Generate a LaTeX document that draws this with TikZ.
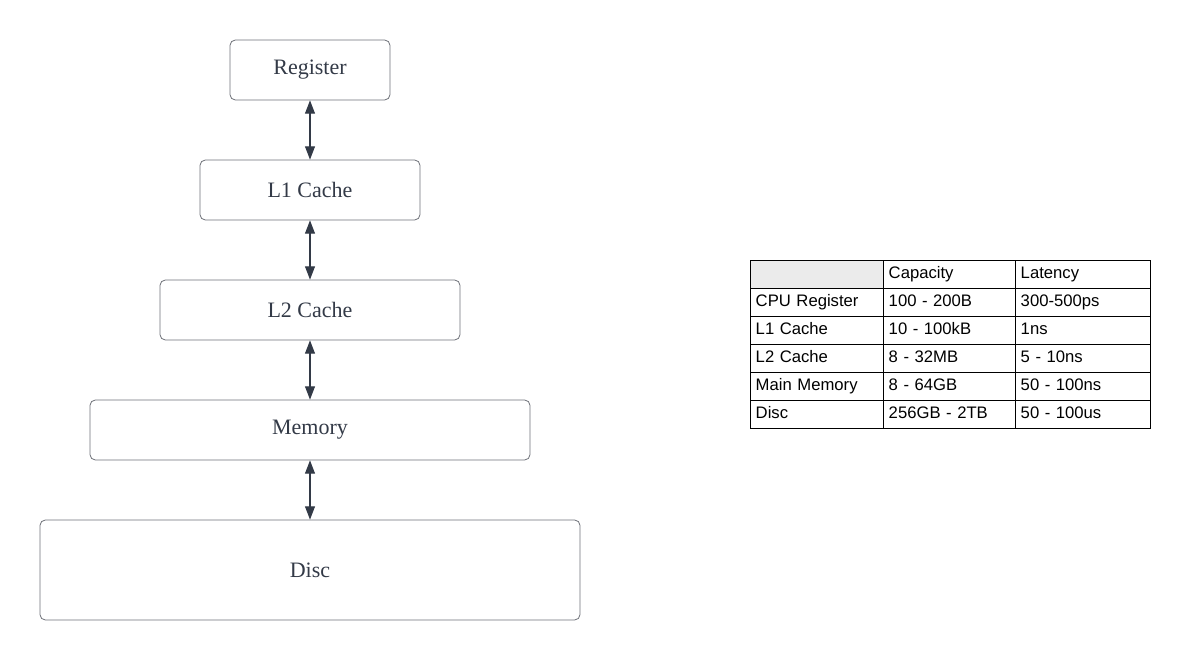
\documentclass[tikz,border=0pt]{standalone}
\usepackage{fontspec}
\setmainfont{Liberation Serif}
\newfontfamily\tabfont{Liberation Sans}
\usetikzlibrary{arrows.meta}
\definecolor{ink}{HTML}{333A47}
\definecolor{edgegray}{HTML}{6E7179}
\definecolor{hdr}{HTML}{EBEBEB}

\begin{document}
\begin{tikzpicture}[x=0.75pt,y=-0.75pt,
  bx/.style={draw=edgegray,line width=0.6pt,rounded corners=4pt,fill=white,text=ink,
    inner sep=0pt,font=\fontsize{16.5}{18}\selectfont},
  e/.style={{Triangle[length=10pt,width=7.5pt]}-{Triangle[length=10pt,width=7.5pt]},ink,line width=0.8pt},
  cell/.style={draw=black,line width=0.6pt,anchor=north west,minimum height=21pt,
    text height=9pt,text depth=2.5pt,
    inner xsep=4pt,inner ysep=0pt,align=left,font=\tabfont\fontsize{12.5}{14}\selectfont},
  ca/.style={cell,text width=91.75pt},
  cb/.style={cell,text width=91pt},
  cc/.style={cell,text width=93.25pt}]
  \useasboundingbox (0,0) rectangle (1190,660);
  % hierarchy
  \node[bx,minimum width=120pt,minimum height=45pt] (reg) at (310,70) {Register};
  \node[bx,minimum width=165pt,minimum height=45pt] (l1) at (310,190) {L1 Cache};
  \node[bx,minimum width=225pt,minimum height=45pt] (l2) at (310,310) {L2 Cache};
  \node[bx,minimum width=330pt,minimum height=45pt] (mem) at (310,430) {Memory};
  \node[bx,minimum width=405pt,minimum height=75pt] (disc) at (310,570) {Disc};
  \draw[e] (reg)--(l1); \draw[e] (l1)--(l2);
  \draw[e] (l2)--(mem); \draw[e] (mem)--(disc);
  % table
  \node[ca,fill=hdr] (h0) at (750,260) {};
  \node[cb] (h1) at (883,260) {Capacity};
  \node[cc] (h2) at (1015,260) {Latency};
  \foreach \n/\a/\b/\c [count=\i] in {
      cpu/CPU Register/100 - 200B/300-500ps,
      lone/L1 Cache/10 - 100kB/1ns,
      ltwo/L2 Cache/8 - 32MB/5 - 10ns,
      main/Main Memory/8 - 64GB/50 - 100ns,
      dsk/Disc/256GB - 2TB/50 - 100us}{
    \node[ca] (\n-a) at (750,260+28*\i) {\a};
    \node[cb] (\n-b) at (883,260+28*\i) {\b};
    \node[cc] (\n-c) at (1015,260+28*\i) {\c};
  }
\end{tikzpicture}
\end{document}
